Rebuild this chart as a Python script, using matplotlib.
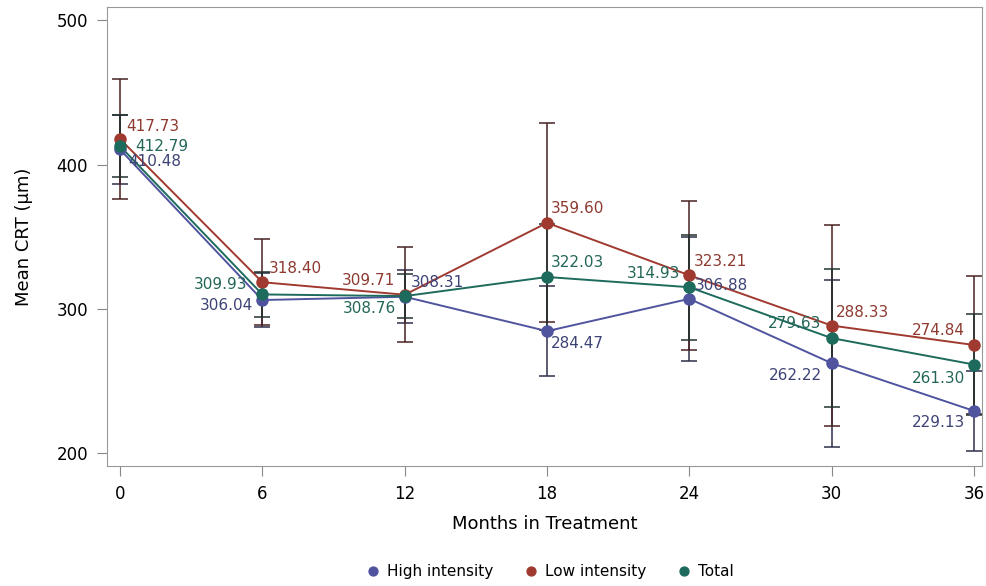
import numpy as np
import matplotlib.pyplot as plt

# Months and mean CRT per group
months = [0, 6, 12, 18, 24, 30, 36]
high_mean = [410.48, 306.04, 308.31, 284.47, 306.88, 262.22, 229.13]
low_mean = [417.73, 318.40, 309.71, 359.60, 323.21, 288.33, 274.84]
total_mean = [412.79, 309.93, 308.76, 322.03, 314.93, 279.63, 261.30]

# error bar half widths
high_err = [24, 19, 18.5, 31, 43, 58, 27.5]
low_err = [41.5, 30, 33, 69, 51.5, 70, 48]
total_err = [21.5, 15.5, 15, 36.5, 36.5, 48, 35]

names = ['High intensity', 'Low intensity', 'Total']

# label offsets in pixels (dx, dy) for each point
high_off = [(8, -12), (-9, -5), (6, 14), (4, -12), (5, 13), (-10, -12), (-9, -12)]
low_off = [(6, 13), (6, 14), (-10, 14), (4, 14), (4, 14), (4, 13), (-9, 15)]
total_off = [(15, 0), (-15, 10), (-9, -12), (4, 14), (-9, 14), (-10, 15), (-9, -14)]

series = [
    (high_mean, high_err, high_off, '#50549f', '#2e2f4a', '#3d4475'),
    (low_mean, low_err, low_off, '#a03a30', '#4a2222', '#8e3a30'),
    (total_mean, total_err, total_off, '#1d6b5c', '#22332e', '#236657'),
]

fig = plt.figure(figsize=(9.87, 5.86), dpi=100)
ax = fig.add_axes([0.1084, 0.205, 0.8866, 0.783])

for (mean, err, offs, col, ecol, tcol), name in zip(series, names):
    ax.errorbar(months, mean, yerr=err, fmt='none', ecolor=ecol,
                elinewidth=1.1, capsize=5.5, capthick=1.1, zorder=2)
    ax.plot(months, mean, '-', color=col, lw=1.4, zorder=3)
    ax.plot(months, mean, 'o', color=col, ms=8, zorder=4, label=name)
    for m, v, (dx, dy) in zip(months, mean, offs):
        ax.annotate(f'{v:.2f}', (m, v), xytext=(dx, dy),
                    textcoords='offset pixels', color=tcol, fontsize=11,
                    ha='left' if dx > 0 else 'right', va='center', zorder=5)

ax.set_xlim(-0.55, 36.34)
ax.set_ylim(191, 509.3)
ax.set_xticks(months)
ax.set_yticks([200, 300, 400, 500])
ax.tick_params(labelsize=12, color='#888888', length=7, pad=6.5)
for sp in ax.spines.values():
    sp.set_color('#999999')

ax.set_xlabel('Months in Treatment', fontsize=13, labelpad=9)
ax.set_ylabel('Mean CRT (μm)', fontsize=13, labelpad=17)

h, l = ax.get_legend_handles_labels()
fig.legend(h, l, loc='center', bbox_to_anchor=(0.556, 0.024), ncol=3,
           frameon=False, fontsize=11, handletextpad=0.3, columnspacing=1.9,
           markerscale=0.8, handlelength=1.2)

fig.savefig('out.png', dpi=100)
